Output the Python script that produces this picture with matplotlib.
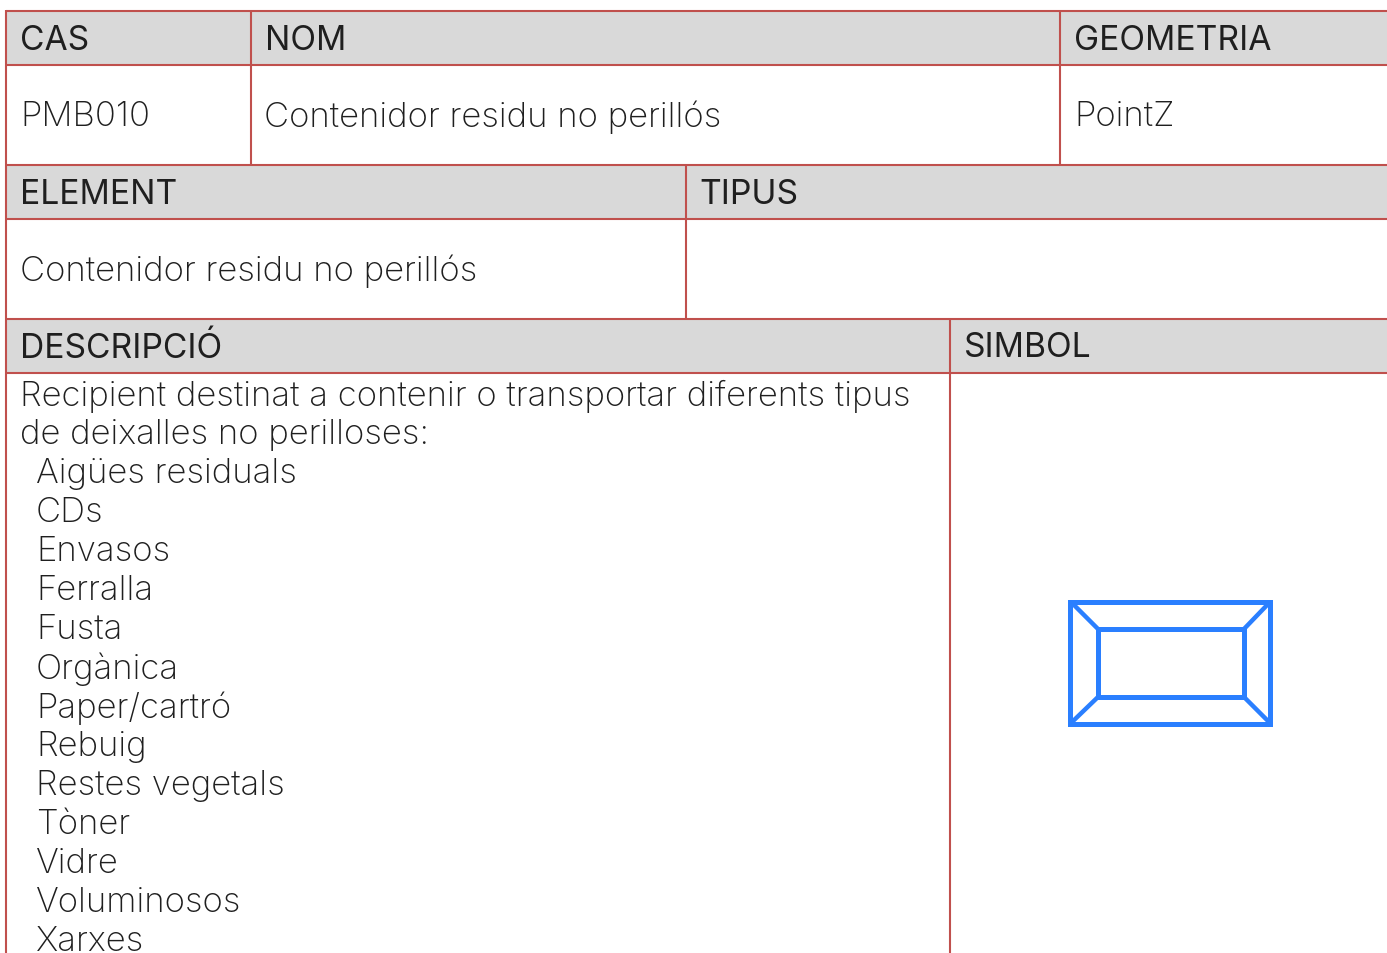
import matplotlib
matplotlib.use('Agg')
import matplotlib.pyplot as plt
from matplotlib.patches import Rectangle

W, H = 1387, 954
RED = '#c0504d'
GREY = '#d9d9d9'
INK = '#1f1f1f'
BLUE = '#2a7fff'
FS = 25.0
FS_HEAD = 24.2

plt.rcParams['font.family'] = ['Inter', 'DejaVu Sans']

headers = [('CAS', 20, 38), ('NOM', 265, 38), ('GEOMETRIA', 1074, 38),
           ('ELEMENT', 20, 192), ('TIPUS', 699, 192),
           ('DESCRIPCIÓ', 20, 346), ('SIMBOL', 964, 346)]
values = [('PMB010', 20, 115), ('Contenidor residu no perillós', 264, 115), ('PointZ', 1074, 115),
          ('Contenidor residu no perillós', 20, 269)]
desc_lines = ['Recipient destinat a contenir o transportar diferents tipus',
              'de deixalles no perilloses:']
desc_items = ['Aigües residuals', 'CDs', 'Envasos', 'Ferralla', 'Fusta', 'Orgànica',
              'Paper/cartró', 'Rebuig', 'Restes vegetals', 'Tòner', 'Vidre', 'Voluminosos', 'Xarxes']

fig = plt.figure(figsize=(W / 100, H / 100), dpi=100)
ax = fig.add_axes([0, 0, 1, 1])
ax.set_xlim(0, W)
ax.set_ylim(H, 0)
ax.axis('off')

# grey header bands
for y0, y1 in [(12, 65), (166, 219), (320, 373)]:
    ax.add_patch(Rectangle((6, y0), W - 6, y1 - y0, color=GREY, lw=0))

# table rules
for y in [11.7, 65.7, 165.7, 219.7, 319.7, 373.7]:
    ax.plot([6, W], [y, y], color=RED, lw=1.5, solid_capstyle='butt')
ax.plot([6.3, 6.3], [11, H], color=RED, lw=1.5, solid_capstyle='butt')
ax.plot([251.3, 251.3], [11, 165], color=RED, lw=1.5, solid_capstyle='butt')
ax.plot([1060.3, 1060.3], [11, 165], color=RED, lw=1.5, solid_capstyle='butt')
ax.plot([686.3, 686.3], [165, 319], color=RED, lw=1.5, solid_capstyle='butt')
ax.plot([950.3, 950.3], [319, H], color=RED, lw=1.5, solid_capstyle='butt')

for txt, x, y in headers:
    ax.text(x, y + 2.5, txt, fontsize=FS_HEAD, color=INK, va='center', ha='left')
for txt, x, y in values:
    ax.text(x, y + 2, txt, fontsize=FS, color=INK, va='center', ha='left', fontweight='light')

for i, txt in enumerate(desc_lines):
    ax.text(20, 396 + i * 39, txt, fontsize=FS, color=INK, va='center', ha='left', fontweight='light')
for i, txt in enumerate(desc_items):
    ax.text(36, 474 + i * 39, txt, fontsize=FS, color=INK, va='center', ha='left', fontweight='light')

# symbol
ax.add_patch(Rectangle((1070.2, 602.5), 200, 122, fill=False, ec=BLUE, lw=3.6, joinstyle='miter'))
ax.add_patch(Rectangle((1097.7, 629.5), 146.5, 68.5, fill=False, ec=BLUE, lw=3.6, joinstyle='miter'))
for xs, ys in [((1071, 1098), (603, 630)), ((1270, 1244), (603, 630)),
               ((1071, 1098), (724, 698)), ((1270, 1244), (724, 698))]:
    ax.plot(xs, ys, color=BLUE, lw=3.2, solid_capstyle='butt')

fig.savefig('out.png', dpi=100)
